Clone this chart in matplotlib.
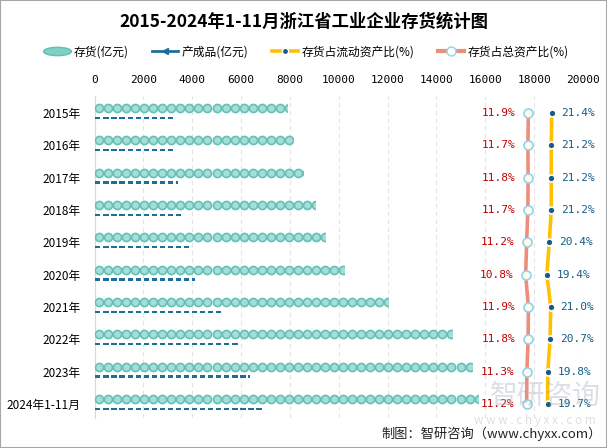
import numpy as np
import matplotlib
matplotlib.use('Agg')
import matplotlib.pyplot as plt
from matplotlib.lines import Line2D
from matplotlib.path import Path
from matplotlib.patches import Rectangle

plt.rcParams['font.family'] = ['Noto Sans CJK SC', 'DejaVu Sans']

# Dados
anos = ['2015年', '2016年', '2017年', '2018年', '2019年', '2020年',
        '2021年', '2022年', '2023年', '2024年1-11月']
estoque = [7900, 8130, 8540, 9040, 9450, 10220, 12020, 14640, 15440, 15700]
produto = [3260, 3270, 3410, 3610, 3860, 4100, 5200, 5940, 6370, 6920]
pct_total = [11.9, 11.7, 11.8, 11.7, 11.2, 10.8, 11.9, 11.8, 11.3, 11.2]
pct_fluxo = [21.4, 21.2, 21.2, 21.2, 20.4, 19.4, 21.0, 20.7, 19.8, 19.7]
xticks = [0, 2000, 4000, 6000, 8000, 10000, 12000, 14000, 16000, 18000, 20000]

W, H = 607, 448
fig = plt.figure(figsize=(W / 100, H / 100), dpi=100)
ax = fig.add_axes([94.5 / W, 1 - 418 / H, (583 - 94.5) / W, (418 - 96) / H])

n = len(anos)
y = np.arange(n)
ax.set_xlim(0, 20000)
ax.set_ylim(n - 1 + 14 / 32.33, -17 / 32.33)

# Linhas de percentual (eixo secundário oculto)
ax2 = ax.twiny()
ax2.set_xlim(-164.4, 34.1)
ax2.set_ylim(ax.get_ylim())
ax2.axis('off')

# Barras pictóricas (círculos repetidos, cortados no valor)
passo_e = 370
for i, v in enumerate(estoque):
    xs = np.arange(passo_e / 2, v + passo_e, passo_e)
    sc = ax.scatter(xs, np.full(len(xs), y[i] - 0.15), s=34, marker='o',
                    facecolor='#A7DDD6', edgecolor='#62C2B6', linewidths=1.2, zorder=3)
    clip = Rectangle((0, y[i] - 0.5), v, 0.7, transform=ax.transData)
    sc.set_clip_path(clip)

rect = Path([(-1, -0.4), (0.6, -0.4), (0.6, 0.4), (-1, 0.4), (-1, -0.4)],
            [Path.MOVETO, Path.LINETO, Path.LINETO, Path.LINETO, Path.CLOSEPOLY])
passo_p = 330
for i, v in enumerate(produto):
    xs = np.arange(passo_p / 2, v + passo_p, passo_p)
    sc = ax.scatter(xs, np.full(len(xs), y[i] + 0.15), s=22, marker=rect,
                    facecolor='#1F6E99', edgecolor='none', zorder=3)
    clip = Rectangle((0, y[i]), v, 0.4, transform=ax.transData)
    sc.set_clip_path(clip)

ax.xaxis.set_ticks_position('top')
ax.xaxis.set_label_position('top')
ax.set_xticks(xticks)
ax.set_xticklabels([str(t) for t in xticks], fontsize=8, family='DejaVu Sans Mono')
ax.tick_params(axis='x', length=0, pad=8, labeltop=True, labelbottom=False)
ax.set_yticks(y)
ax.set_yticklabels(anos, fontsize=8.5)
ax.tick_params(axis='y', length=0, pad=10)
ax.grid(axis='x', color='#E4E4E4', linestyle=(0, (4, 3)), linewidth=0.8)
ax.set_axisbelow(True)
for s in ['top', 'right', 'bottom']:
    ax.spines[s].set_visible(False)
ax.spines['left'].set_color('#D9D9D9')

ax2.plot(pct_total, y, color='#EE8E7A', lw=2.6, marker='o', ms=6.5,
         mfc='#FFFBE8', mec='#8FD3EE', mew=1.2, zorder=4)
ax2.plot(pct_fluxo, y, color='#FFC000', lw=2.6, marker='o', ms=5,
         mfc='#135E82', mec='white', mew=1.2, zorder=4)
for i in range(n):
    ax2.annotate(f'{pct_total[i]:.1f}%', (pct_total[i], y[i]), xytext=(-9, 0),
                 textcoords='offset points', ha='right', va='center',
                 fontsize=8, color='#C00000', family='DejaVu Sans Mono')
    ax2.annotate(f'{pct_fluxo[i]:.1f}%', (pct_fluxo[i], y[i]), xytext=(7, 0),
                 textcoords='offset points', ha='left', va='center',
                 fontsize=8, color='#135E82', family='DejaVu Sans Mono')

# Título e legenda
fig.text(0.5, 1 - 22 / H, '2015-2024年1-11月浙江省工业企业存货统计图',
         ha='center', va='center', fontsize=12.5, fontweight='bold', family='Noto Sans CJK SC')

circ = Path.unit_circle()
elipse = Path(circ.vertices * np.array([1.0, 0.3]), circ.codes)
handles = [
    Line2D([], [], ls='none', marker=elipse, ms=20, mfc='#7FCFC5', mec='#5EBFB3'),
    Line2D([], [], color='#1F6E99', lw=2, marker='<', ms=4, mfc='#1F6E99'),
    Line2D([], [], color='#FFC000', lw=2.6, marker='o', ms=4.5, mfc='#135E82', mec='white'),
    Line2D([], [], color='#EE8E7A', lw=3, marker='o', ms=6.5, mfc='white', mec='#8FD3EE'),
]
labels = ['存货(亿元)', '产成品(亿元)', '存货占流动资产比(%)', '存货占总资产比(%)']
fig.legend(handles, labels, loc='center', bbox_to_anchor=(0.505, 1 - 52 / H), ncol=4,
           frameon=False, fontsize=8.5, handlelength=2.2, handletextpad=0.3,
           columnspacing=2.0)

# Marca d'água e fonte
fig.text(545 / W, 1 - 396 / H, '智研咨询', ha='center', va='center', fontsize=20,
         color='#9AA6B4', alpha=0.35)
fig.text(535 / W, 1 - 420 / H, 'w w w . c h y x x . c o m', ha='center', va='center',
         fontsize=8.5, color='#9AA6B4', alpha=0.35)
fig.text(602 / W, 1 - 434 / H, '制图：智研咨询（www.chyxx.com）', ha='right', va='center',
         fontsize=9.5, color='#222222')

fig.patches.append(Rectangle((0, 0), 1, 1, transform=fig.transFigure, fill=False,
                             edgecolor='#A6A6A6', lw=1.5))

plt.savefig('out.png', dpi=100)
